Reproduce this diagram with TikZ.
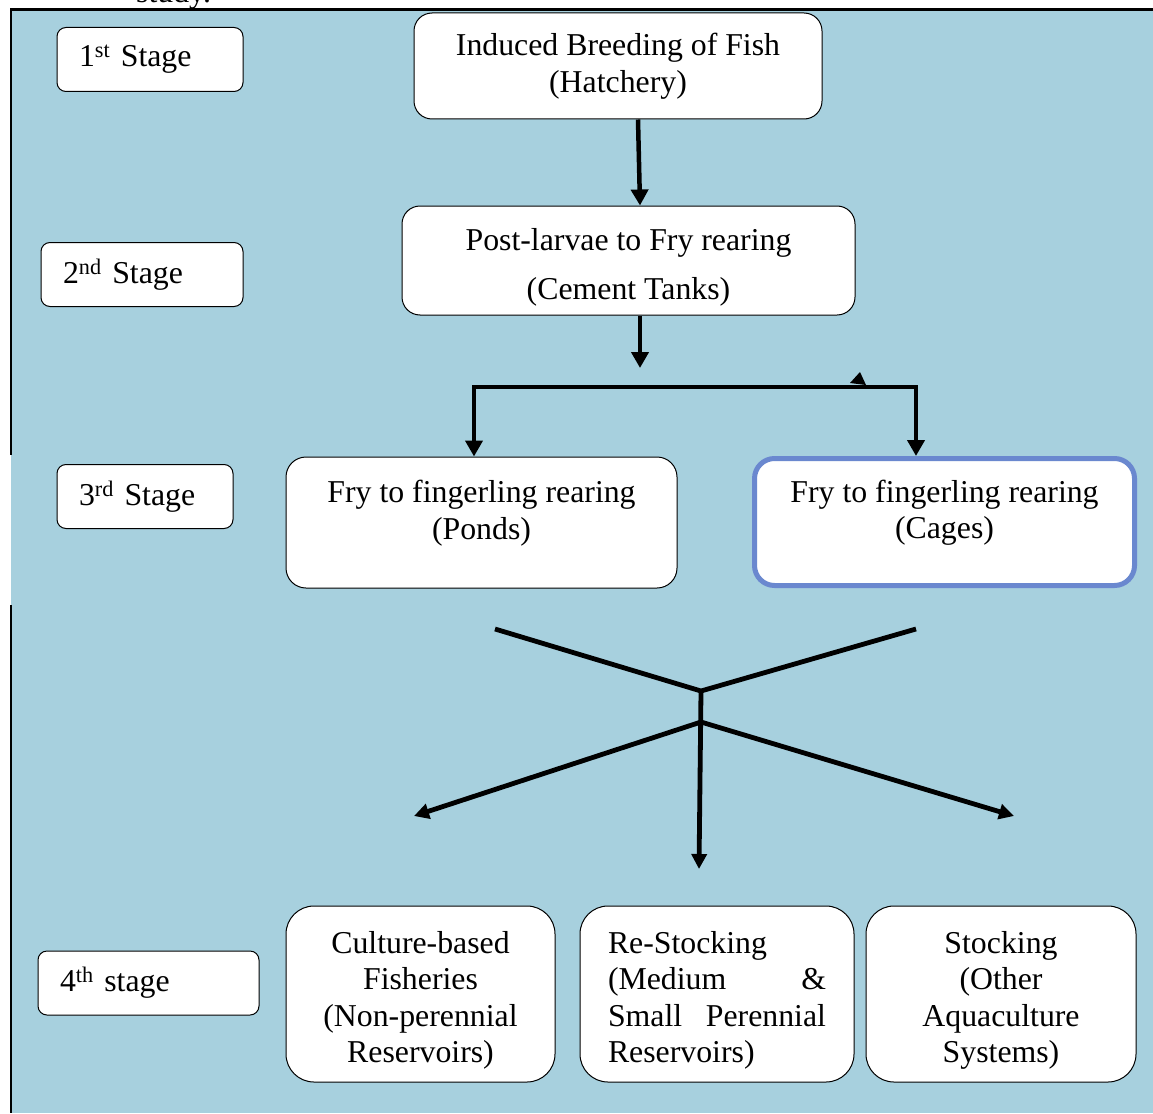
\documentclass[tikz,border=0pt]{standalone}
\usepackage{fontspec}
\setmainfont{Liberation Serif}
\usetikzlibrary{arrows.meta,positioning}
\definecolor{bgblue}{RGB}{167,208,222}
\definecolor{cageblue}{RGB}{106,136,207}

\begin{document}
\begin{tikzpicture}[
      x=1pt, y=-1pt,
      font=\fontsize{31.8}{36.5}\selectfont,
      box/.style={draw, fill=white, rounded corners=18pt, line width=1pt,
                  align=center, inner sep=0pt},
      bigbox/.style={box, rounded corners=28pt, minimum height=176pt},
      stagebox/.style={draw, fill=white, rounded corners=9pt, line width=1pt,
                  align=left, inner xsep=22pt, inner ysep=0pt, minimum height=64pt},
      arrow/.style={-{Triangle[length=16pt,width=17pt]}, line width=4.5pt},
      thin arrow/.style={-{Triangle[length=15pt,width=15pt]}, line width=4.8pt},
      xline/.style={line width=4.8pt}
    ]
    \useasboundingbox (0,0) rectangle (1153,1113);
    \fill[bgblue] (11,10) rectangle (1153,1113);
    \draw[line width=3pt] (10,10) -- (1153,10);
    \draw[line width=2pt] (11,10) -- (11,455);
    \draw[line width=2pt] (11,605) -- (11,1113);
    \node[anchor=base west, inner sep=0pt] (cap) at (136,2.5) {study.};

    % stage labels
    \node[stagebox, text width=142pt] (s1) at (150,59.5) {1\textsuperscript{st} Stage};
    \node[stagebox, text width=158pt] (s2) at (142,274.5) {2\textsuperscript{nd} Stage};
    \node[stagebox, text width=132pt] (s3) at (145,496.5) {3\textsuperscript{rd} Stage};
    \node[stagebox, text width=177pt] (s4) at (148.5,983) {4\textsuperscript{th} stage};

    \node[box, minimum width=408pt, minimum height=106pt] (hatch) at (618,66)
      {Induced Breeding of Fish\\(Hatchery)};
    \node[box, minimum width=453pt, minimum height=109pt] (cement) at (628.5,260.5)
      {Post-larvae to Fry rearing\\[12.5pt](Cement Tanks)\\[-42.5pt]\mbox{}};
    \node[box, rounded corners=20pt, minimum width=391pt, minimum height=131pt] (ponds) at (481.5,522.5)
      {Fry to fingerling rearing\\(Ponds)\\[-11pt]\mbox{}};
    \node[box, draw=cageblue, line width=5pt, rounded corners=20pt,
          minimum width=380pt, minimum height=127pt] (cages) at (944.5,522)
      {Fry to fingerling rearing\\(Cages)\\[-11pt]\mbox{}};

    \node[bigbox, minimum width=269pt] (culture) at (420.5,994)
      {Culture-based\\Fisheries\\(Non-perennial\\Reservoirs)\\[-42.5pt]\mbox{}};
    \node[bigbox, minimum width=274pt, text width=218pt, align=left] (restock) at (717,994)
      {Re-Stocking\\(Medium\hfill\&\\Small\hfill Perennial\\Reservoirs)\\[-42.5pt]\mbox{}};
    \node[bigbox, minimum width=270pt] (stock) at (1001,994)
      {Stocking\\(Other\\Aquaculture\\Systems)\\[-42.5pt]\mbox{}};

    \coordinate (drop)  at (640,368);
    \coordinate (split) at (695,387);
    \draw[arrow] ([xshift=20pt]hatch.south) -- ([xshift=11.5pt]cement.north);
    \draw[arrow] ([xshift=11.5pt]cement.south) -- (drop);
    \draw[arrow] (split) -| ([xshift=-7.5pt]ponds.north);
    \draw[arrow] (split) -| ([xshift=-28.5pt]cages.north);
    \fill (850,383) -- (860,372) -- (866,385) -- cycle;

    % merging lines and fan-out
    \coordinate (xl)   at (495,629);
    \coordinate (xr)   at (916,629);
    \coordinate (hub)  at (701,691);
    \coordinate (fork) at (701,722);
    \coordinate (tl)   at (414,816);
    \coordinate (tm)   at (699,869);
    \coordinate (tr)   at (1014,816);
    \draw[xline] (xl) -- (hub) -- (xr);
    \draw[thin arrow] (hub) -- (tm);
    \draw[thin arrow] (fork) -- (tl);
    \draw[thin arrow] (fork) -- (tr);
  \end{tikzpicture}
\end{document}
